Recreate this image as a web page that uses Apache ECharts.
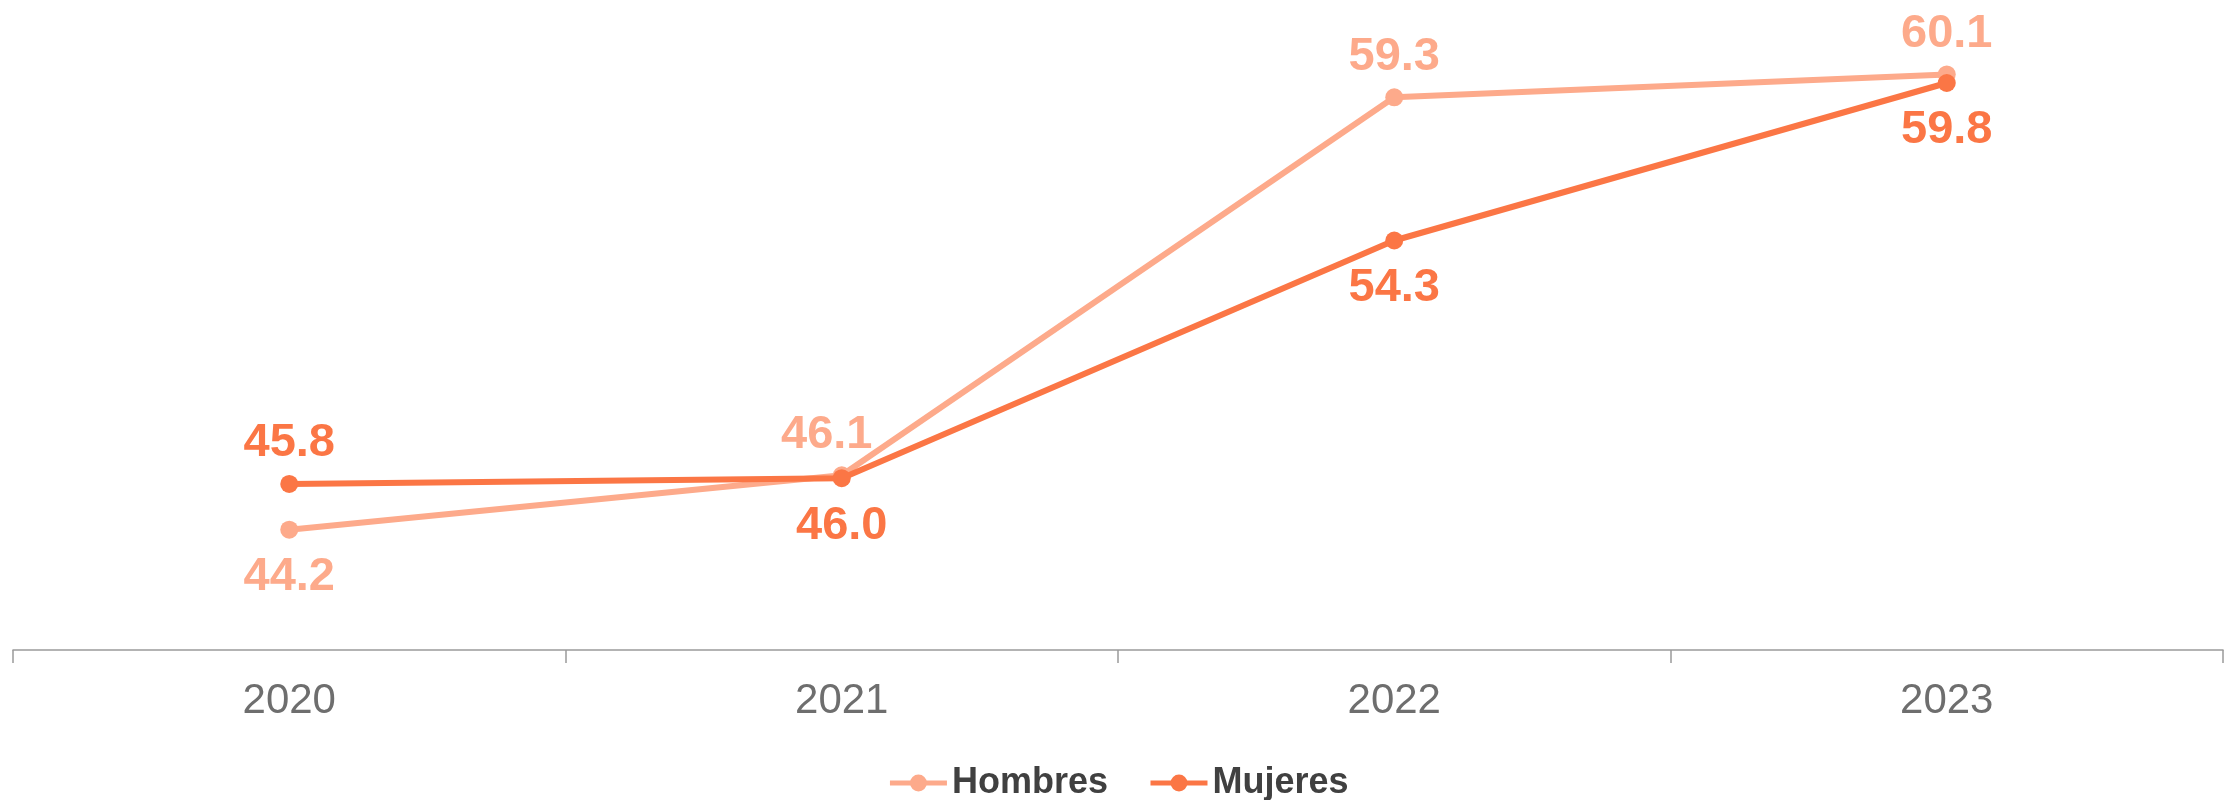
<!DOCTYPE html>
<html lang="es">
<head>
    <meta charset="UTF-8">
    <title>Hombres / Mujeres</title>
    <script src="https://cdn.jsdelivr.net/npm/echarts@6/dist/echarts.min.js"></script>
    <style>
        html, body { margin: 0; padding: 0; background: #fff; }
        #main { width: 2236px; height: 800px; }
    </style>
</head>
<body>
<div id="main"></div>
<script type="text/javascript">
    // datos
    var years = ['2020', '2021', '2022', '2023'];
    var hombres = [44.2, 46.1, 59.3, 60.1];
    var mujeres = [45.8, 46.0, 54.3, 59.8];

    var colorHombres = '#FDAA8B';
    var colorMujeres = '#FB7645';

    // posicion de la etiqueta de cada punto (arriba / abajo)
    var posHombres = ['bottom', 'top', 'top', 'top'];
    var posMujeres = ['top', 'bottom', 'bottom', 'bottom'];

    function buildData(values, positions) {
        return values.map(function (v, i) {
            var pos = positions[i];
            var item = {
                value: v,
                label: { position: pos, distance: pos === 'top' ? 8 : 15 }
            };
            // el 46.1 va un poco a la izquierda para no pisar la linea
            if (i === 1 && pos === 'top') {
                item.label.offset = [-15, 0];
            }
            return item;
        });
    }

    var myChart = echarts.init(document.getElementById('main'));

    var labelStyle = {
        show: true,
        fontFamily: 'Liberation Sans, Arial, sans-serif',
        fontSize: 47,
        fontWeight: 'bold',
        formatter: function (p) { return p.value.toFixed(1); }
    };

    var option = {
        animation: false,
        backgroundColor: '#ffffff',
        grid: {
            left: 13,
            right: 13,
            top: 20,
            bottom: 150,
            containLabel: false
        },
        legend: {
            top: 760,
            left: 'center',
            itemWidth: 57,
            itemHeight: 21,
            itemGap: 40,
            lineStyle: { width: 5 },
            textStyle: {
                fontFamily: 'Liberation Sans, Arial, sans-serif',
                fontSize: 36,
                fontWeight: 'bold',
                color: '#404040'
            },
            data: ['Hombres', 'Mujeres']
        },
        xAxis: {
            type: 'category',
            data: years,
            boundaryGap: true,
            axisLine: { lineStyle: { color: '#9a9a9a', width: 1.5 } },
            axisTick: { show: true, length: 13, lineStyle: { color: '#9a9a9a', width: 1.5 } },
            axisLabel: {
                margin: 30,
                fontFamily: 'Liberation Sans, Arial, sans-serif',
                fontSize: 42,
                color: '#6e6e6e'
            }
        },
        yAxis: {
            type: 'value',
            min: 40,
            max: 62,
            show: false,
            splitLine: { show: false }
        },
        series: [
            {
                name: 'Hombres',
                type: 'line',
                data: buildData(hombres, posHombres),
                symbol: 'circle',
                symbolSize: 18,
                color: colorHombres,
                lineStyle: { width: 6, color: colorHombres },
                itemStyle: { color: colorHombres },
                label: Object.assign({}, labelStyle, { color: colorHombres }),
                z: 2
            },
            {
                name: 'Mujeres',
                type: 'line',
                data: buildData(mujeres, posMujeres),
                symbol: 'circle',
                symbolSize: 18,
                color: colorMujeres,
                lineStyle: { width: 6, color: colorMujeres },
                itemStyle: { color: colorMujeres },
                label: Object.assign({}, labelStyle, { color: colorMujeres }),
                z: 3
            }
        ]
    };

    myChart.setOption(option);
</script>
</body>
</html>
